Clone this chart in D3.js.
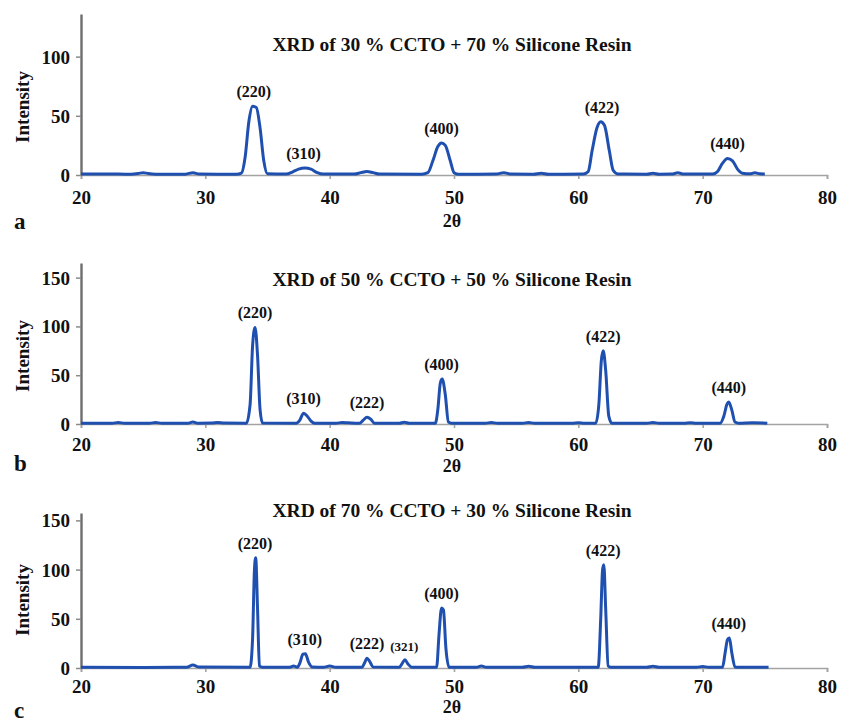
<!DOCTYPE html>
<html>
<head>
<meta charset="utf-8">
<script src="https://cdn.jsdelivr.net/npm/d3@7"></script>
<style>
  body { margin: 0; background: #fff; }
  svg text { font-family: "Liberation Serif", "Times New Roman", serif; font-weight: bold; fill: #111; }
</style>
</head>
<body>
<div id="chart"></div>
<script>
// XRD scans: [2theta, intensity]
var scan30 = [[20,0.8],[22,0.9],[24,0.6],[24.6,1.2],[25,2],[25.4,1.2],[26,0.6],[28.4,0.7],[29,2],[29.5,0.8],[32.5,0.6],[32.9,1.5],
  [33.2,15],[33.5,45],[33.8,58],[34.1,57],[34.4,40],[34.7,12],[35,1],[36.5,0.8],[37,2.5],[37.5,5],[38,6],[38.5,5],[39,2],[39.5,0.8],
  [42,0.8],[42.5,2],[43,3],[43.5,2],[44,0.8],[47.4,0.7],[47.9,2],[48.3,12],[48.7,24],[49,27],[49.3,25],[49.7,12],[50,2],[50.4,0.6],
  [53.4,0.8],[54,2],[54.6,0.8],[56.4,0.7],[57,1.5],[57.6,0.7],[60.4,0.8],[60.8,3],[61.1,20],[61.5,40],[61.8,45],[62.1,42],[62.5,20],
  [62.8,4],[63.2,0.8],[65.5,0.7],[66,1.5],[66.5,0.7],[67.5,0.8],[68,1.8],[68.5,0.8],[70.8,0.8],[71.2,3],[71.6,10],[72,14],[72.4,12],
  [72.8,5],[73.2,1.5],[73.8,1],[74.2,1.8],[74.6,1],[75,0.8]];

var scan50 = [[20,0.8],[22.5,0.8],[23,1.5],[23.5,0.8],[25.5,0.8],[26,1.5],[26.5,0.8],[28.6,0.8],[29,2],[29.4,0.8],[30.5,0.9],[31,1.5],
  [31.5,0.9],[33.3,0.8],[33.6,20],[33.8,80],[34,99],[34.2,70],[34.4,15],[34.6,1],[37.3,0.8],[37.6,4],[37.9,11],[38.2,8],[38.5,3],
  [38.8,0.8],[40.5,0.8],[41,1.5],[41.5,1.2],[42.4,0.8],[42.7,4],[43,7],[43.3,5],[43.6,0.8],[45.6,0.8],[46,1.8],[46.4,0.8],[48.5,0.8],
  [48.7,15],[48.9,42],[49.05,46],[49.3,30],[49.55,2],[49.8,0.8],[52.5,0.8],[53,1.5],[53.5,0.8],[55.5,0.8],[56,1.5],[56.5,0.8],
  [59.5,0.8],[60,1.2],[60.5,0.8],[61.4,0.8],[61.65,20],[61.85,65],[62,75],[62.2,55],[62.45,8],[62.7,0.8],[65.5,0.8],[66,1.5],
  [66.5,0.8],[68.5,0.8],[69,1.3],[69.5,0.8],[71.4,0.8],[71.7,8],[71.95,20],[72.1,22.5],[72.35,14],[72.6,2],[72.9,0.8],[74,1.3],[75.2,0.8]];

var scan70 = [[20,0.8],[25,0.6],[28.5,0.8],[29,3],[29.5,1],[33.6,0.8],[33.8,30],[33.95,100],[34.05,112],[34.2,60],[34.35,2],[34.6,0.8],
  [36.8,0.8],[37.1,2],[37.4,0.8],[37.6,5],[37.85,14],[38.05,14.5],[38.3,6],[38.6,1],[39.5,0.8],[40,2],[40.5,0.8],[42.6,0.8],[42.8,5],
  [43,10],[43.2,7],[43.5,1],[45.6,0.8],[45.85,5],[46.05,8.5],[46.3,4],[46.6,0.8],[48.6,0.8],[48.8,35],[49,61],[49.15,59],[49.35,20],
  [49.6,0.8],[51.8,0.8],[52.2,2],[52.6,0.8],[55.5,0.8],[56,1.8],[56.5,0.8],[61.6,0.8],[61.8,50],[61.95,100],[62.05,105],[62.2,60],
  [62.4,2],[62.6,0.8],[65.5,0.8],[66,1.8],[66.5,0.8],[69.5,0.8],[70,1.5],[70.5,0.8],[71.6,0.8],[71.8,15],[72,29],[72.15,30.5],
  [72.35,15],[72.6,1],[73,0.8],[75.3,0.8]];

// peak labels: [hkl, 2theta]
var peaks30 = [["(220)",33.9],["(310)",37.9],["(400)",49],["(422)",61.9],["(440)",72]];
var peaks50 = [["(220)",34],["(310)",37.9],["(222)",43],["(400)",49],["(422)",62],["(440)",72.1]];
var peaks70 = [["(220)",34],["(310)",38],["(222)",43],["(321)",46],["(400)",49],["(422)",62],["(440)",72.1]];

var titles = ["XRD of 30 % CCTO + 70 % Silicone Resin", "XRD of 50 % CCTO + 50 % Silicone Resin", "XRD of 70 % CCTO + 30 % Silicone Resin"];
var letters = ["a", "b", "c"];
var xTicks = [20, 30, 40, 50, 60, 70, 80];
var yTicksA = [0, 50, 100];
var yTicksBC = [0, 50, 100, 150];

var width = 851, height = 722;
var svg = d3.select("#chart").append("svg").attr("width", width).attr("height", height);

// per panel layout: bottom of plot, top of plot, y max, text offsets
var panels = [
  {scan: scan30, peaks: peaks30, yTop: 14, yBottom: 175, yMax: 136, yTicks: yTicksA, titleY: 51, tickDy: 29, xLabDy: 52, letterDy: 54},
  {scan: scan50, peaks: peaks50, yTop: 263, yBottom: 424, yMax: 165, yTicks: yTicksBC, titleY: 286, tickDy: 27, xLabDy: 48, letterDy: 47},
  {scan: scan70, peaks: peaks70, yTop: 513, yBottom: 668, yMax: 157.5, yTicks: yTicksBC, titleY: 517, tickDy: 25, xLabDy: 45, letterDy: 50}
];

var x = d3.scaleLinear().domain([20, 80]).range([81, 827]);

panels.forEach(function(p, i) {
  var y = d3.scaleLinear().domain([0, p.yMax]).range([p.yBottom, p.yTop]);
  var g = svg.append("g");

  // x axis
  var xAxis = g.append("g")
      .attr("transform", "translate(0," + p.yBottom + ")")
      .call(d3.axisBottom(x).tickValues(xTicks).tickSize(4).tickPadding(6));
  xAxis.selectAll("path, line").attr("stroke", "#a3a3a3").attr("stroke-width", 1.6);
  xAxis.selectAll("text").remove();
  xAxis.selectAll(".tick").append("text")
      .attr("y", p.tickDy)
      .attr("text-anchor", "middle")
      .style("font-size", "19px")
      .text(function(d) { return d; });

  // y axis
  var yAxis = g.append("g")
      .attr("transform", "translate(81,0)")
      .call(d3.axisLeft(y).tickValues(p.yTicks).tickSize(5).tickSizeOuter(0));
  yAxis.select("path").attr("stroke", "#6e6e6e").attr("stroke-width", 2.4);
  yAxis.selectAll("line").attr("stroke", "#8a8a8a").attr("stroke-width", 1.5);
  yAxis.selectAll("text").attr("x", -11).attr("dy", "0.34em")
      .style("font-size", "19px").style("font-family", null).attr("fill", "#111");

  // the scan
  var line = d3.line()
      .x(function(d) { return x(d[0]); })
      .y(function(d) { return y(d[1]); })
      .curve(d3.curveMonotoneX);
  g.append("path")
      .datum(p.scan)
      .attr("d", line)
      .attr("fill", "none")
      .attr("stroke", "#1f50b0")
      .attr("stroke-width", 3)
      .attr("stroke-linejoin", "round");

  // peak labels sit just above the highest point near each peak
  g.selectAll(".peak")
      .data(p.peaks)
      .enter().append("text")
      .attr("class", "peak")
      .attr("x", function(d) { return x(d[1]); })
      .attr("y", function(d) {
        var top = d3.max(p.scan.filter(function(s) { return Math.abs(s[0] - d[1]) < 0.8; }), function(s) { return s[1]; });
        return y(top) - 9;
      })
      .attr("text-anchor", "middle")
      .style("font-size", function(d) { return d[0] === "(321)" ? "13px" : "16px"; })
      .text(function(d) { return d[0]; });

  g.append("text")
      .attr("x", 452).attr("y", p.titleY)
      .attr("text-anchor", "middle")
      .style("font-size", "19.5px")
      .text(titles[i]);

  g.append("text")
      .attr("transform", "translate(29," + (p.yBottom - 68) + ") rotate(-90)")
      .attr("text-anchor", "middle")
      .style("font-size", "19px")
      .text("Intensity");

  g.append("text")
      .attr("x", 452).attr("y", p.yBottom + p.xLabDy)
      .attr("text-anchor", "middle")
      .style("font-size", "18px")
      .text("2θ");

  g.append("text")
      .attr("x", 14).attr("y", p.yBottom + p.letterDy)
      .style("font-size", "23px")
      .text(letters[i]);
});
</script>
</body>
</html>
